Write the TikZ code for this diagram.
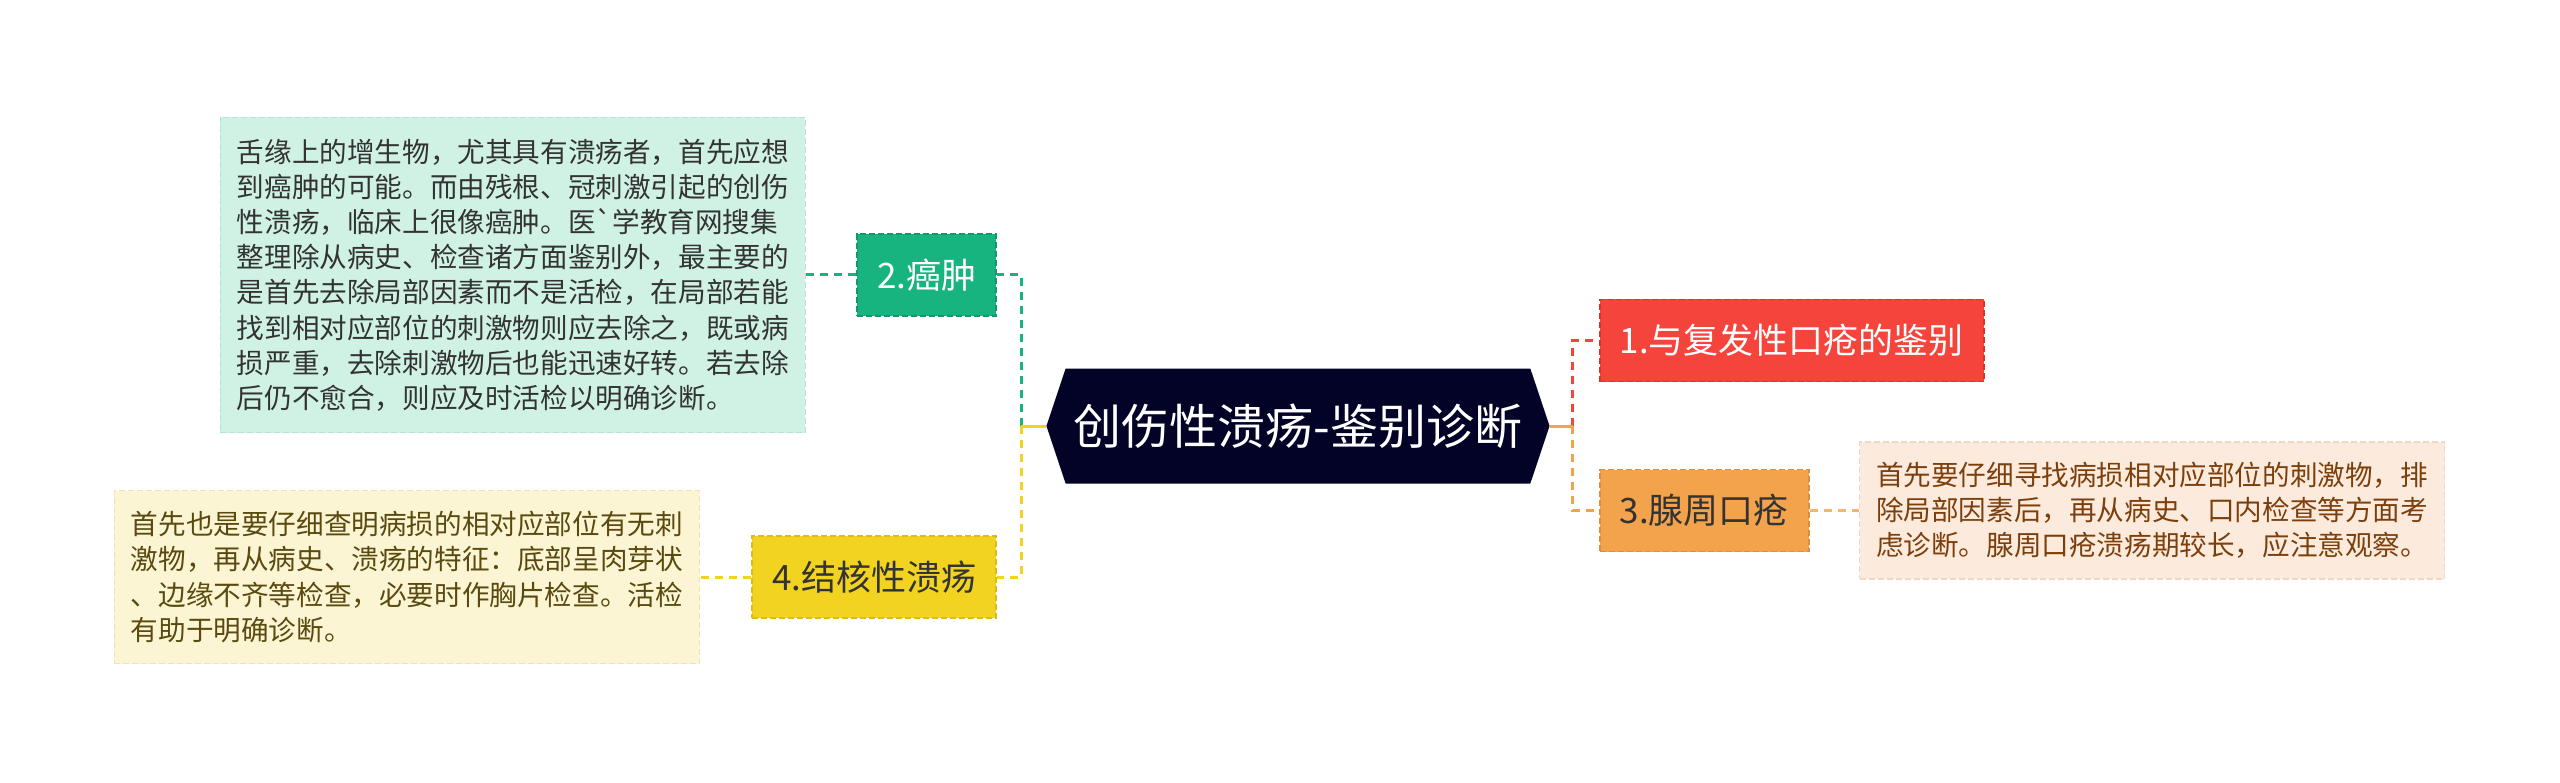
\documentclass[tikz,border=0pt]{standalone}
\usepackage{fontspec}
\newfontfamily\cjk{Noto Sans CJK SC}
\usetikzlibrary{positioning, shapes.symbols}
\definecolor{hubnavy}{HTML}{020327}
\definecolor{cancergreen}{HTML}{17B47F}
\definecolor{cancergreenborder}{HTML}{0E9A69}
\definecolor{cancermint}{HTML}{D0F2E4}
\definecolor{cancermintborder}{HTML}{B8E3D2}
\definecolor{tbyellow}{HTML}{F1D320}
\definecolor{tbyellowborder}{HTML}{DDBE10}
\definecolor{tbcream}{HTML}{FBF5D3}
\definecolor{tbcreamborder}{HTML}{EDE3B6}
\definecolor{tbtext}{HTML}{5A4A10}
\definecolor{recurred}{HTML}{F5443B}
\definecolor{recurredborder}{HTML}{DB3129}
\definecolor{glandorange}{HTML}{F4A34D}
\definecolor{glandorangeborder}{HTML}{E08E36}
\definecolor{glandpeach}{HTML}{FCEBDC}
\definecolor{glandpeachborder}{HTML}{F1D8C2}
\definecolor{glandtext}{HTML}{7C3F0C}
\definecolor{darktext}{HTML}{333333}

\begin{document}
\begin{tikzpicture}[
      hub/.style={signal, signal to=west and east, signal pointer angle=143,
        fill=hubnavy, text=white, minimum width=250pt, minimum height=57.5pt,
        inner xsep=4pt, font=\cjk\fontsize{24}{28}\selectfont},
      tag/.style={draw, dash pattern=on 3pt off 1.5pt, line width=0.8pt,
        minimum height=41pt, inner xsep=10pt,
        font=\cjk\fontsize{17.5}{20}\selectfont},
      note/.style={draw, dash pattern=on 3pt off 1.5pt, line width=0.8pt,
        align=left, minimum width=292.5pt, inner xsep=8pt,
        font=\cjk\fontsize{13.8}{17.6}\selectfont},
      link/.style={line width=1.5pt, dash pattern=on 4pt off 3pt},
      stem/.style={line width=1.5pt}
    ]
      \useasboundingbox (-649pt,-178pt) rectangle (631pt,213pt);
      \node[hub] (hub) at (0,0) {创伤性溃疡-鉴别诊断};
      % left branches
      \node[tag, fill=cancergreen, draw=cancergreenborder, text=white,
        left=24.5pt of hub, yshift=75.5pt] (cancer) {2.癌肿};
      \node[tag, fill=tbyellow, draw=tbyellowborder, text=darktext,
        left=24.5pt of hub, yshift=-75.5pt] (tb) {4.结核性溃疡};
      \node[note, fill=cancermint, draw=cancermintborder, text=darktext,
        minimum height=157.5pt, left=25pt of cancer] (cancernote)
        {舌缘上的增生物，尤其具有溃疡者，首先应想\\
         到癌肿的可能。而由残根、冠刺激引起的创伤\\
         性溃疡，临床上很像癌肿。医\char"60学教育网搜集\\
         整理除从病史、检查诸方面鉴别外，最主要的\\
         是首先去除局部因素而不是活检，在局部若能\\
         找到相对应部位的刺激物则应去除之，既或病\\
         损严重，去除刺激物后也能迅速好转。若去除\\
         后仍不愈合，则应及时活检以明确诊断。};
      \node[note, fill=tbcream, draw=tbcreamborder, text=tbtext,
        minimum height=86.5pt, left=25.5pt of tb] (tbnote)
        {首先也是要仔细查明病损的相对应部位有无刺\\
         激物，再从病史、溃疡的特征：底部呈肉芽状\\
         、边缘不齐等检查，必要时作胸片检查。活检\\
         有助于明确诊断。};
      % right branches
      \node[tag, fill=recurred, draw=recurredborder, text=white,
        right=24.5pt of hub, yshift=42.75pt] (recur) {1.与复发性口疮的鉴别};
      \node[tag, fill=glandorange, draw=glandorangeborder, text=darktext,
        right=24.5pt of hub, yshift=-42.25pt] (gland) {3.腺周口疮};
      \node[note, fill=glandpeach, draw=glandpeachborder, text=glandtext,
        minimum height=68.5pt, right=24.5pt of gland] (glandnote)
        {首先要仔细寻找病损相对应部位的刺激物，排\\
         除局部因素后，再从病史、口内检查等方面考\\
         虑诊断。腺周口疮溃疡期较长，应注意观察。};
      % connectors
      \coordinate[left=12.5pt of hub.west] (hubleft);
      \coordinate[right=11.5pt of hub.east] (hubright);
      \draw[link, cancergreen] (hubleft) |- (cancer.east);
      \draw[link, tbyellow] (hubleft) |- (tb.east);
      \draw[stem, tbyellow] (hub.west) -- (hubleft);
      \draw[link, recurred] (hubright) |- (recur.west);
      \draw[link, glandorange] (hubright) |- (gland.west);
      \draw[stem, glandorange] (hub.east) -- (hubright);
      \draw[link, cancergreen] (cancer) -- (cancernote);
      \draw[link, tbyellow] (tb) -- (tbnote);
      \draw[link, glandorange!80] (gland) -- (glandnote);
    \end{tikzpicture}
\end{document}
